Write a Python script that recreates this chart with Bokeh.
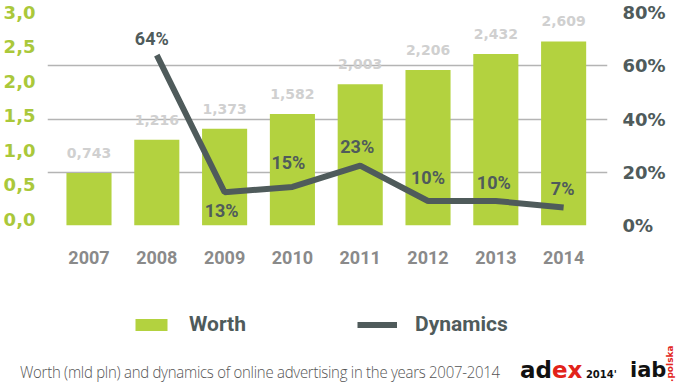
from bokeh.plotting import figure
from bokeh.layouts import column
from bokeh.models import (ColumnDataSource, Range1d, LinearAxis, FixedTicker, LabelSet,
                          Legend, LegendItem, Div)
from bokeh.core.properties import value
from bokeh.embed import file_html
from bokeh.resources import INLINE

# ---- data ----
years = ["2007", "2008", "2009", "2010", "2011", "2012", "2013", "2014"]
worth = [0.743, 1.216, 1.373, 1.582, 2.003, 2.206, 2.432, 2.609]
dyn_years = ["2008", "2009", "2010", "2011", "2012", "2013", "2014"]
dynamics = [64, 12.5, 14.5, 22.5, 9.2, 9.2, 6.8]
dyn_labels = ["64%", "13%", "15%", "23%", "10%", "10%", "7%"]
left_ticks = [0, 0.5, 1.0, 1.5, 2.0, 2.5, 3.0]
right_ticks = [0, 20, 40, 60, 80]
series_names = ["Worth", "Dynamics"]
caption = "Worth (mld pln) and dynamics of online advertising in the years 2007-2014"

GREEN = "#b3d23f"
SLATE = "#4f5b5b"
FONT = "Roboto"
NUMFONT = "DejaVu Sans"
W = 680

p = figure(width=W, height=290, output_backend="svg", toolbar_location=None,
           x_range=Range1d(-0.612, 7.647), y_range=Range1d(0, 80),
           x_axis_location=None, y_axis_location=None,
           min_border_left=47, min_border_right=73, min_border_top=12, min_border_bottom=65)
p.outline_line_color = None
p.border_fill_color = "white"

p.extra_y_ranges = {"worth": Range1d(0, 3.02), "leftax": Range1d(-0.087, 3.0)}

p.xgrid.visible = False
p.ygrid.ticker = FixedTicker(ticks=[0, 20, 40, 60])
p.ygrid.grid_line_color = "#b4b4b4"
p.ygrid.grid_line_width = 1.5

# bars
xi = list(range(len(years)))
bsrc = ColumnDataSource(dict(x=xi, top=worth,
                             lab=[f"{v:.3f}".replace(".", ",") for v in worth]))
p.vbar(x="x", top="top", width=0.665, source=bsrc, y_range_name="worth",
       fill_color=GREEN, line_color=None)
p.add_layout(LabelSet(x="x", y="top", text="lab", source=bsrc, y_range_name="worth",
                      y_offset=20, text_align="center", text_baseline="middle",
                      text_color="#d0d0d0", text_font_size="14px", text_font=value(NUMFONT),
                      text_font_style="bold"))

# line
lx = [years.index(y) for y in dyn_years]
label_dx = [-5, -3, -4, -3, 0, -2, -1]
label_dy = [17, -18, 24, 19, 24, 19, 19]
lsrc = ColumnDataSource(dict(x=lx, y=dynamics, lab=dyn_labels, dx=label_dx, dy=label_dy))
p.line(x="x", y="y", source=lsrc, line_color=SLATE, line_width=6)
p.add_layout(LabelSet(x="x", y="y", text="lab", source=lsrc, x_offset="dx", y_offset="dy",
                      text_align="center", text_baseline="middle",
                      text_color=SLATE, text_font_size="18px", text_font=value(FONT),
                      text_font_style="bold"))

def style_axis(ax, font):
    ax.axis_line_color = None
    ax.major_tick_line_color = None
    ax.minor_tick_line_color = None
    ax.major_tick_out = 0
    ax.major_tick_in = 0
    ax.minor_tick_out = 0
    ax.minor_tick_in = 0
    ax.major_label_text_font = font
    ax.major_label_text_font_style = "bold"

lax = LinearAxis(y_range_name="leftax", ticker=FixedTicker(ticks=left_ticks),
                 major_label_overrides={t: f"{t:.1f}".replace(".", ",") for t in left_ticks})
style_axis(lax, NUMFONT)
lax.major_label_text_color = "#aac83a"
lax.major_label_text_font_size = "18px"
lax.major_label_standoff = 12
p.add_layout(lax, "left")

rax = LinearAxis(ticker=FixedTicker(ticks=right_ticks),
                 major_label_overrides={t: f"{t}%" for t in right_ticks})
style_axis(rax, NUMFONT)
rax.major_label_text_color = SLATE
rax.major_label_text_font_size = "18px"
rax.major_label_standoff = 15
p.add_layout(rax, "right")

xax = LinearAxis(ticker=FixedTicker(ticks=xi),
                 major_label_overrides={i: y for i, y in enumerate(years)})
style_axis(xax, FONT)
xax.major_label_text_color = "#8a8a8a"
xax.major_label_text_font_size = "18px"
xax.major_label_standoff = 25
p.add_layout(xax, "below")

# ---- legend strip ----
q = figure(width=W, height=52, output_backend="svg", toolbar_location=None,
           x_range=Range1d(0, 1), y_range=Range1d(0, 1),
           x_axis_location=None, y_axis_location=None,
           min_border_left=47, min_border_right=73, min_border_top=0, min_border_bottom=0)
q.outline_line_color = None
q.background_fill_alpha = 0
q.border_fill_alpha = 0
q.xgrid.visible = False
q.ygrid.visible = False
# legend key renderers (zero-size keys, nothing visible in the strip itself)
rb = q.vbar(x=[0.5], top=[0.5], bottom=[0.5], width=0.0, fill_color=GREEN, line_color=None)
rl = q.line(x=[0.5], y=[0.5], line_color=SLATE, line_width=6)
legend = Legend(items=[LegendItem(label=series_names[0], renderers=[rb]),
                       LegendItem(label=series_names[1], renderers=[rl])],
                orientation="horizontal", location=(84, 6),
                glyph_width=40, glyph_height=15, label_standoff=18, spacing=111,
                padding=0, margin=0, border_line_color=None, background_fill_alpha=0,
                label_text_font=FONT, label_text_font_size="21px", label_text_font_style="bold",
                label_text_color=SLATE, label_height=15)
q.add_layout(legend, "center")

# ---- caption and logos ----
logo_font = "font-family:'DejaVu Sans';font-weight:bold;"
html = f"""
<div style="position:relative;width:{W}px;height:45px;">
  <span style="position:absolute;left:20px;top:21px;white-space:nowrap;line-height:17px;
        font-family:'Open Sans';font-weight:300;font-size:17px;color:#555555;letter-spacing:-0.3px;
        transform:scaleX(0.88);transform-origin:0 0;">{caption}</span>
  <span style="position:absolute;left:520px;top:17px;white-space:nowrap;line-height:23px;
        {logo_font}font-size:23px;color:#111111;">ad<span
        style="color:#e2231a;">ex</span><span style="font-size:10px;line-height:10px;">&nbsp;2014'</span></span>
  <span style="position:absolute;left:630px;top:18px;white-space:nowrap;line-height:21px;
        {logo_font}font-size:21px;color:#111111;">iab</span>
  <span style="position:absolute;left:666px;top:40px;white-space:nowrap;line-height:9px;
        {logo_font}font-size:9px;color:#e2231a;
        transform-origin:0 0;transform:rotate(-90deg);">.polska</span>
</div>
"""
div = Div(text=html, width=W, height=45, margin=0)

open("out.html", "w").write(file_html(column(p, q, div, spacing=0), INLINE))
